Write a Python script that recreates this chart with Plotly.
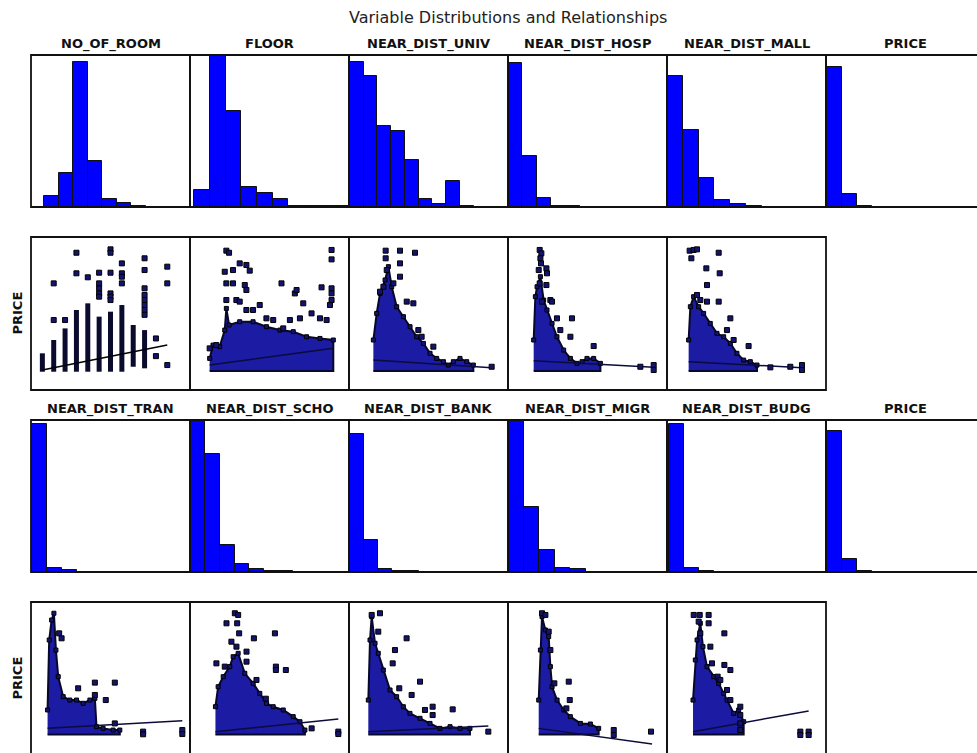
import plotly.graph_objects as go

# ---------------- histogram counts (10 equal-width bins per variable) ----------------
top_hist_names = ["NO_OF_ROOM", "FLOOR", "NEAR_DIST_UNIV", "NEAR_DIST_HOSP", "NEAR_DIST_MALL", "PRICE"]
bottom_hist_names = ["NEAR_DIST_TRAN", "NEAR_DIST_SCHO", "NEAR_DIST_BANK", "NEAR_DIST_MIGR", "NEAR_DIST_BUDG", "PRICE"]

no_of_room_counts = [32, 102, 437, 137, 24, 12, 4, 1, 1, 0]
floor_counts = [52, 454, 289, 60, 42, 25, 3, 3, 2, 3]
near_dist_univ_counts = [435, 394, 245, 230, 142, 24, 10, 77, 2, 1]
near_dist_hosp_counts = [434, 152, 27, 3, 2, 1, 0, 0, 0, 1]
near_dist_mall_counts = [394, 232, 87, 22, 10, 4, 1, 0, 0, 0]
price_counts = [420, 40, 4, 1, 0, 0, 0, 0, 0, 0]
near_dist_tran_counts = [440, 13, 5, 1, 1, 0, 0, 0, 0, 0]
near_dist_scho_counts = [453, 353, 80, 25, 10, 4, 2, 1, 1, 0]
near_dist_bank_counts = [411, 96, 8, 2, 4, 1, 0, 0, 0, 1]
near_dist_migr_counts = [453, 195, 66, 13, 8, 1, 1, 0, 0, 0]
near_dist_budg_counts = [440, 13, 4, 1, 0, 0, 0, 0, 0, 0]

# ---------------- PRICE vs NO_OF_ROOM (PRICE on a 0-100 scale) ----------------
room_stack_x = [1, 2, 3, 4, 5, 6, 7, 8, 9, 10]
room_stack_low = [0, 0, 0, 0, 0, 0, 0, 0, 4.1, 2.8]
room_stack_high = [15.2, 26.2, 35.8, 51.0, 56.5, 45.5, 49.6, 55.1, 38.6, 34.4]
room_points_x = [2, 2, 3, 4, 4, 5, 6, 6, 6, 6, 6, 7, 7, 7, 7, 7, 7, 8, 8, 8, 8,
                 10, 10, 10, 10, 10, 10, 10, 10, 11, 11, 12, 12, 12]
room_points_y = [42.7, 73.0, 42.7, 81.3, 98.3, 78.0, 81.8, 73.0, 68.9, 64.7, 62.0,
                 101.1, 98.3, 81.8, 64.7, 62.0, 59.2, 89.5, 81.3, 78.5, 73.0,
                 93.7, 84.0, 68.9, 63.4, 59.2, 55.1, 51.0, 47.0, 27.5, 12.9, 86.8, 73.0, 5.5]
room_fit_x = [1, 12]
room_fit_y = [1.4, 22.0]

# ---------------- PRICE vs the other variables (x scaled 0-100 from min to max) ----------------
fit_x = [0, 100]
price_floor = 0.5

floor_cloud_x = [0, 2.7, 8.1, 12.2, 13.5, 15.7, 24.3, 35.1, 45.9, 56.8, 67.6, 78.4, 89.2, 100]
floor_cloud_y = [11.0, 22.0, 20.7, 34.4, 52.3, 38.6, 41.3, 41.3, 37.2, 34.4, 33.1, 28.9, 27.5, 26.2]
floor_out_x = [13.5, 15.7, 12.2, 18.9, 24.3, 29.7, 32.4, 13.5, 18.9, 28.4, 29.7, 13.5, 21.6, 24.3,
               29.7, 35.1, 40.5, 45.9, 58.1, 68.9, 70.3, 75.7, 82.4, 90.5, 97.3, 98.6, 98.6, 98.6,
               98.6, 98.6, 89.2, 94.6, 64.9, 73.0, 59.5, 51.4, 0, 5.4]
floor_out_y = [100.0, 98.3, 82.6, 84.0, 89.5, 88.2, 83.5, 73.0, 73.0, 71.6, 67.5, 59.2, 59.2, 57.9,
               51.0, 51.0, 55.1, 44.1, 73.0, 64.7, 67.5, 56.5, 48.2, 69.7, 55.1, 100.6, 92.8, 68.9,
               64.7, 59.2, 44.1, 42.7, 42.7, 44.1, 35.8, 42.7, 19.3, 22.0]
floor_fit_y = [5.5, 19.3]

univ_cloud_x = [0, 2.8, 5.6, 9.9, 12.7, 15.5, 19.7, 25.4, 31.0, 36.6, 42.3, 47.9, 53.5, 59.2, 63.4,
                67.6, 73.2, 78.9, 84.5]
univ_cloud_y = [26.2, 48.2, 64.7, 75.8, 86.8, 70.2, 53.7, 45.5, 37.2, 28.9, 23.4, 15.2, 11.0, 8.3, 5.5,
                8.3, 11.0, 8.3, 5.5]
univ_out_x = [10.4, 10.4, 22.5, 35.2, 22.5, 11.3, 8.5, 16.9, 22.5, 28.2, 33.8, 38.0, 40.8, 50.7, 5.6, 100]
univ_out_y = [100.0, 93.7, 100.0, 98.3, 89.5, 84.0, 70.2, 73.0, 78.5, 57.9, 56.5, 34.4, 28.9, 20.7, 66.1, 4.1]
univ_fit_y = [9.6, 3.3]

hosp_cloud_x = [0, 1.4, 2.8, 5.6, 8.3, 11.1, 15.3, 19.4, 25.0, 30.6, 36.1, 40.3, 44.4, 50.0, 55.6]
hosp_cloud_y = [26.2, 62.0, 70.2, 78.5, 59.2, 51.0, 39.9, 28.9, 17.9, 11.0, 6.9, 8.3, 11.0, 11.0, 6.9]
hosp_out_x = [5.0, 6.4, 5.6, 6.1, 10.6, 11.1, 4.2, 5.0, 10.6, 13.9, 19.4, 31.9, 30.6, 50.0, 88.9,
              100, 100, 6.9, 15.3, 22.2]
hosp_out_y = [100.6, 97.8, 93.7, 89.5, 85.4, 81.3, 84.0, 73.0, 71.6, 59.2, 44.1, 44.1, 28.9, 21.2, 4.1,
              5.5, 1.4, 57.9, 57.9, 34.4]
hosp_fit_y = [9.1, 3.6]

mall_cloud_x = [0, 1.5, 4.4, 8.8, 13.2, 19.1, 25.0, 30.9, 36.8, 42.6, 48.5, 54.4, 60.3]
mall_cloud_y = [26.2, 53.7, 62.0, 53.7, 48.2, 39.9, 31.7, 28.9, 23.4, 15.2, 9.6, 8.3, 5.5]
mall_out_x = [0.9, 4.4, 7.4, 2.4, 15.6, 26.5, 27.4, 16.2, 7.4, 10.3, 16.2, 26.5, 36.8, 33.8, 39.7,
              52.9, 89.7, 100, 100, 72.1]
mall_out_y = [100.0, 100.6, 101.1, 93.7, 85.4, 98.3, 81.3, 71.6, 63.4, 59.2, 57.9, 57.9, 44.1, 34.4, 26.2,
              21.2, 4.1, 5.5, 1.4, 3.6]
mall_fit_y = [8.3, 3.3]

tran_cloud_x = [0, 1.2, 3.0, 4.7, 6.2, 7.9, 11.6, 16.5, 21.5, 26.4, 31.4, 35.1, 36.3, 41.2, 48.6, 53.6]
tran_cloud_y = [20.7, 78.5, 95.0, 100.6, 70.2, 48.2, 31.7, 28.9, 28.9, 26.2, 28.9, 30.3, 6.9, 5.5, 4.1, 4.1]
tran_out_x = [8.6, 10.4, 22.7, 35.1, 49.9, 43.2, 35.1, 70.9, 70.9, 100, 100, 49.9]
tran_out_y = [84.0, 79.9, 38.6, 43.3, 43.3, 28.9, 33.1, 2.8, 0.6, 4.1, 0.8, 9.6]
tran_fit_y = [5.5, 11.8]

scho_cloud_x = [0, 2.2, 6.3, 11.7, 14.4, 18.5, 23.9, 30.7, 36.1, 41.6, 47.0, 55.2, 63.3, 68.8, 72.8]
scho_cloud_y = [23.4, 39.9, 48.2, 56.5, 64.7, 67.5, 51.0, 42.7, 34.4, 26.2, 23.4, 20.7, 15.2, 11.0, 4.1]
scho_out_x = [15.8, 18.5, 17.7, 19.3, 9.0, 13.0, 17.1, 25.3, 25.3, 31.3, 48.4, 49.2, 49.2, 57.3, 0.8,
              7.6, 33.4, 41.0, 78.3, 100, 100]
scho_out_y = [100.6, 99.2, 92.3, 84.0, 92.3, 77.1, 73.0, 68.9, 60.6, 79.9, 84.0, 56.5, 53.7, 53.7, 59.2,
              56.5, 45.5, 30.0, 5.5, 2.8, 0.8]
scho_fit_y = [2.8, 13.2]

bank_cloud_x = [0, 1.4, 2.8, 5.6, 8.3, 12.5, 18.1, 23.6, 29.2, 34.7, 43.1, 51.4, 59.7, 68.1, 76.4, 84.7]
bank_cloud_y = [28.9, 78.5, 97.8, 75.8, 67.5, 53.7, 37.2, 31.7, 23.4, 17.9, 13.8, 9.6, 5.5, 6.9, 5.5, 5.5]
bank_out_x = [2.8, 9.7, 8.3, 31.9, 22.2, 20.3, 25.8, 43.1, 36.1, 47.2, 53.6, 53.6, 70.3, 100]
bank_out_y = [99.2, 100.6, 85.4, 79.9, 70.2, 59.2, 38.6, 44.1, 33.1, 20.7, 23.4, 16.5, 21.2, 2.8]
bank_fit_y = [2.8, 7.4]

migr_cloud_x = [0, 1.5, 2.9, 5.9, 8.8, 10.3, 11.8, 16.2, 22.1, 27.9, 36.8, 45.6, 52.9]
migr_cloud_y = [28.9, 70.2, 97.8, 86.8, 81.3, 56.5, 39.9, 28.9, 20.7, 15.2, 9.6, 9.1, 5.5]
migr_out_x = [2.9, 5.9, 8.8, 10.3, 13.8, 26.5, 27.4, 24.4, 66.2, 66.2, 99.1]
migr_out_y = [100.6, 99.2, 85.4, 70.2, 42.7, 44.1, 28.9, 22.0, 4.1, 0.0, 2.8]
migr_fit_y = [5.5, -7.4]

budg_cloud_x = [0, 2.0, 3.5, 6.3, 8.6, 12.1, 17.9, 22.2, 26.5, 29.4, 35.2, 39.5, 43.8]
budg_cloud_y = [28.9, 62.0, 78.5, 92.3, 73.0, 56.5, 48.2, 42.7, 34.4, 28.9, 17.9, 20.7, 11.0]
budg_out_x = [0.6, 5.8, 13.5, 4.9, 13.5, 27.1, 6.3, 15.0, 16.4, 27.1, 32.3, 21.3, 23.6, 29.4, 32.3,
              40.9, 40.9, 40.9, 40.9, 92.8, 92.8, 100, 100]
budg_out_y = [99.2, 99.2, 99.2, 93.7, 92.3, 84.0, 84.0, 73.0, 59.2, 57.9, 53.7, 48.2, 45.5, 37.2, 28.9,
              23.4, 16.5, 9.6, 4.1, 2.8, 0.0, 2.8, 0.0]
budg_fit_y = [2.8, 19.8]

# ---------------- layout settings ----------------
W, H = 977, 753
COL_LEFT = [31, 190, 349, 508, 667, 826]
COL_W = 159
ROWS = [(55, 207), (237, 390), (420, 572), (602, 755)]
HIST_YRANGE = [(0, 457), (0, 453)]
HIST_XRANGE = [
    [(-0.92, 10.05), (-0.27, 9.87), (-0.07, 11.5), (0.0, 11.1), (0.0, 10.06), (-0.05, 10.55)],
    [(-0.05, 10.55), (-0.05, 10.84), (-0.07, 11.4), (-0.02, 10.24), (-0.1, 10.5), (-0.05, 10.55)],
]
SCATTER_XRANGE = [
    [(0, 14), (-15.9, 112.7), (-20.6, 113.8), (-21.4, 111.1), (-19.1, 121.2)],
    [(-12.3, 105.7), (-20.7, 108.7), (-16.1, 116.4), (-27.1, 113.2), (-22.5, 115.0)],
]
SCATTER_YRANGE = [(-15.1, 111.3), (-16.5, 109.9)]

BAR_BLUE = "#0000ff"
CLOUD_BLUE = "#1b1ba3"
MARK_FILL = "#141470"
FIT_COLOR = "#0b0b3c"
EDGE = "#111111"
FONT = "DejaVu Sans"

fig = go.Figure()
axes_layout = {}
shapes = []
annotations = []
axis_count = [0]


def place_panel(box, xr, yr):
    """Create an x/y axis pair filling a pixel box; clip it to the page and keep the scale."""
    left, top, right, bottom = box
    lo, hi = max(left, 0), min(right, W)
    sx = (xr[1] - xr[0]) / (right - left)
    xr2 = [xr[0] + (lo - left) * sx, xr[0] + (hi - left) * sx]
    tt, bb = max(top, 0), min(bottom, H)
    sy = (yr[1] - yr[0]) / (bottom - top)
    yr2 = [yr[0] + (bottom - bb) * sy, yr[1] - (tt - top) * sy]
    axis_count[0] += 1
    n = axis_count[0]
    suffix = "" if n == 1 else str(n)
    axes_layout["xaxis" + suffix] = dict(domain=[lo / W, hi / W], range=xr2, visible=False,
                                         fixedrange=True, anchor="y" + suffix)
    axes_layout["yaxis" + suffix] = dict(domain=[1 - bb / H, 1 - tt / H], range=yr2, visible=False,
                                         fixedrange=True, anchor="x" + suffix)
    shapes.append(dict(type="rect", xref="paper", yref="paper",
                       x0=left / W, x1=right / W, y0=1 - bottom / H, y1=1 - top / H,
                       line=dict(color=EDGE, width=1.8), fillcolor="rgba(0,0,0,0)", layer="above"))
    return "x" + suffix, "y" + suffix


def panel_title(text, col, row):
    left = COL_LEFT[col]
    top = ROWS[row][0]
    annotations.append(dict(text="<b>%s</b>" % text, xref="paper", yref="paper",
                            x=(left + COL_W / 2) / W, y=1 - (top - 11) / H,
                            xanchor="center", yanchor="middle", showarrow=False,
                            font=dict(family=FONT, size=13, color=EDGE)))


def add_hist(counts, name, row_idx, col):
    top, bottom = ROWS[row_idx * 2]
    box = (COL_LEFT[col], top, COL_LEFT[col] + COL_W, bottom)
    xa, ya = place_panel(box, HIST_XRANGE[row_idx][col], HIST_YRANGE[row_idx])
    fig.add_trace(go.Bar(x=[i + 0.5 for i in range(len(counts))], y=counts, width=1,
                         marker=dict(color=BAR_BLUE, line=dict(color=EDGE, width=1)),
                         xaxis=xa, yaxis=ya, hoverinfo="skip"))
    panel_title(name, col, row_idx * 2)


def marker_trace(xs, ys, xa, ya, size=5):
    return go.Scatter(x=xs, y=ys, mode="markers", xaxis=xa, yaxis=ya, hoverinfo="skip",
                      marker=dict(size=size, color=MARK_FILL, symbol="square",
                                  line=dict(color="black", width=1)))


def fit_trace(xs, ys, xa, ya, color=FIT_COLOR):
    return go.Scatter(x=xs, y=ys, mode="lines", xaxis=xa, yaxis=ya, hoverinfo="skip",
                      line=dict(color=color, width=1.5))


def add_cloud_scatter(cloud_x, cloud_y, out_x, out_y, fit_y, row_idx, col):
    top, bottom = ROWS[row_idx * 2 + 1]
    box = (COL_LEFT[col], top, COL_LEFT[col] + COL_W, bottom)
    xa, ya = place_panel(box, SCATTER_XRANGE[row_idx][col], SCATTER_YRANGE[row_idx])
    # dense part of the point cloud: area between the lowest price and the upper edge
    poly_x = cloud_x + [cloud_x[-1], cloud_x[0]]
    poly_y = cloud_y + [price_floor, price_floor]
    fig.add_trace(go.Scatter(x=poly_x, y=poly_y, mode="lines", fill="toself", fillcolor=CLOUD_BLUE,
                             line=dict(color="#08082a", width=2), xaxis=xa, yaxis=ya,
                             hoverinfo="skip"))
    fig.add_trace(marker_trace(cloud_x, cloud_y, xa, ya, size=4))
    fig.add_trace(fit_trace(fit_x, fit_y, xa, ya))
    fig.add_trace(marker_trace(out_x, out_y, xa, ya))


# ---- row 1 and row 3: histograms ----
top_counts = [no_of_room_counts, floor_counts, near_dist_univ_counts,
              near_dist_hosp_counts, near_dist_mall_counts, price_counts]
bottom_counts = [near_dist_tran_counts, near_dist_scho_counts, near_dist_bank_counts,
                 near_dist_migr_counts, near_dist_budg_counts, price_counts]
for c, (name, counts) in enumerate(zip(top_hist_names, top_counts)):
    add_hist(counts, name, 0, c)
for c, (name, counts) in enumerate(zip(bottom_hist_names, bottom_counts)):
    add_hist(counts, name, 1, c)

# ---- row 2: PRICE vs NO_OF_ROOM (discrete columns) ----
top2, bottom2 = ROWS[1]
xa, ya = place_panel((COL_LEFT[0], top2, COL_LEFT[0] + COL_W, bottom2),
                     SCATTER_XRANGE[0][0], SCATTER_YRANGE[0])
seg_x, seg_y = [], []
for xv, lo_v, hi_v in zip(room_stack_x, room_stack_low, room_stack_high):
    seg_x += [xv, xv, None]
    seg_y += [lo_v, hi_v, None]
fig.add_trace(go.Scatter(x=seg_x, y=seg_y, mode="lines", xaxis=xa, yaxis=ya, hoverinfo="skip",
                         line=dict(color="#0b0b2e", width=5)))
fig.add_trace(marker_trace(room_points_x, room_points_y, xa, ya))
fig.add_trace(fit_trace(room_fit_x, room_fit_y, xa, ya, color="black"))

# ---- row 2: remaining scatter panels ----
add_cloud_scatter(floor_cloud_x, floor_cloud_y, floor_out_x, floor_out_y, floor_fit_y, 0, 1)
add_cloud_scatter(univ_cloud_x, univ_cloud_y, univ_out_x, univ_out_y, univ_fit_y, 0, 2)
add_cloud_scatter(hosp_cloud_x, hosp_cloud_y, hosp_out_x, hosp_out_y, hosp_fit_y, 0, 3)
add_cloud_scatter(mall_cloud_x, mall_cloud_y, mall_out_x, mall_out_y, mall_fit_y, 0, 4)

# ---- row 4 scatter panels ----
add_cloud_scatter(tran_cloud_x, tran_cloud_y, tran_out_x, tran_out_y, tran_fit_y, 1, 0)
add_cloud_scatter(scho_cloud_x, scho_cloud_y, scho_out_x, scho_out_y, scho_fit_y, 1, 1)
add_cloud_scatter(bank_cloud_x, bank_cloud_y, bank_out_x, bank_out_y, bank_fit_y, 1, 2)
add_cloud_scatter(migr_cloud_x, migr_cloud_y, migr_out_x, migr_out_y, migr_fit_y, 1, 3)
add_cloud_scatter(budg_cloud_x, budg_cloud_y, budg_out_x, budg_out_y, budg_fit_y, 1, 4)

# ---- PRICE labels on the scatter rows ----
for r in (1, 3):
    top, bottom = ROWS[r]
    annotations.append(dict(text="<b>PRICE</b>", xref="paper", yref="paper",
                            x=17 / W, y=1 - (top + bottom) / 2 / H, textangle=-90,
                            xanchor="center", yanchor="middle", showarrow=False,
                            font=dict(family=FONT, size=13, color=EDGE)))

# ---- overall title ----
annotations.append(dict(text="Variable Distributions and Relationships", xref="paper", yref="paper",
                        x=508 / W, y=1 - 18 / H, xanchor="center", yanchor="middle",
                        showarrow=False, font=dict(family=FONT, size=16, color="#222222")))

fig.update_layout(
    width=W, height=H, autosize=False,
    margin=dict(l=0, r=0, t=0, b=0, pad=0),
    paper_bgcolor="white", plot_bgcolor="white",
    showlegend=False, bargap=0,
    font=dict(family=FONT),
    shapes=shapes, annotations=annotations,
    **axes_layout,
)

fig.write_html("out.html")
